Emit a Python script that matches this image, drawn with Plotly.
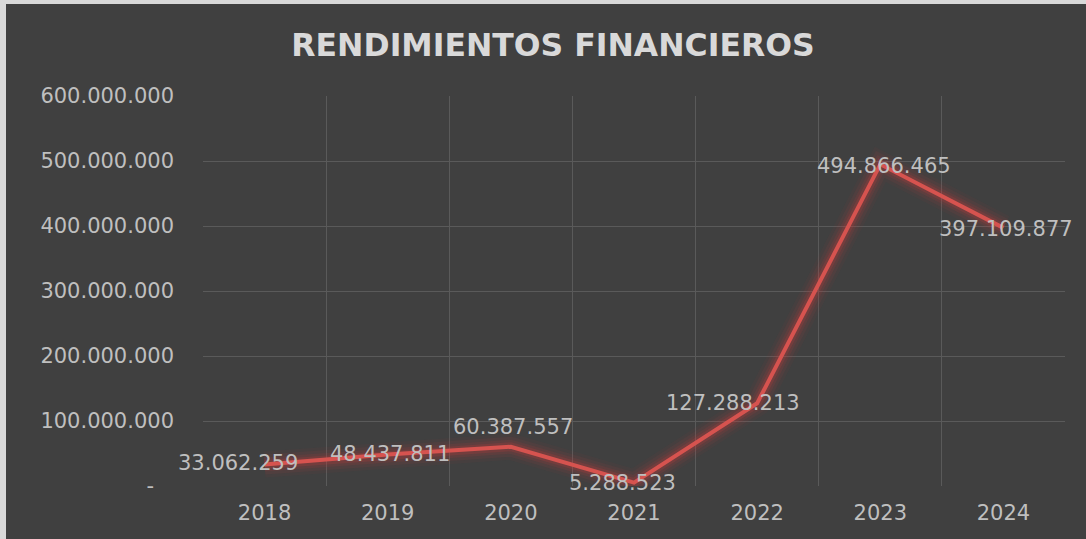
import plotly.graph_objects as go

# Annual financial returns
years = ["2018", "2019", "2020", "2021", "2022", "2023", "2024"]
rendimientos = [33062259, 48437811, 60387557, 5288523, 127288213, 494866465, 397109877]

y_ticks = [0, 100000000, 200000000, 300000000, 400000000, 500000000, 600000000]

# Per-label nudges (pixels) so values sit clear of the line
label_dx = [-27, 2, 2, -12, -24, 4, 3]
label_dy = [2, 1, 20, 0, 0, -2, -1]


def fmt_es(v):
    return f"{v:,}".replace(",", ".")


y_ticktext = ["-\u00a0\u00a0\u00a0"] + [fmt_es(v) for v in y_ticks[1:]]

W, H = 1086, 539
ML, MR, MT, MB = 203, 21, 96, 53
PW, PH = W - ML - MR, H - MT - MB

BG = "#404040"
GRID = "#5a5a5a"
TXT = "#bfbfbf"
RED = "#d6534f"
FONT = "DejaVu Sans"

x_idx = list(range(len(years)))

fig = go.Figure()

# soft glow under the line
for w, a in [(26, 0.05), (20, 0.08), (14, 0.12), (9, 0.2)]:
    fig.add_trace(go.Scatter(
        x=x_idx, y=rendimientos, mode="lines",
        line=dict(color=f"rgba(200,60,60,{a})", width=w),
        hoverinfo="skip", showlegend=False,
    ))

fig.add_trace(go.Scatter(
    x=x_idx, y=rendimientos, mode="lines",
    line=dict(color=RED, width=4),
    showlegend=False, hoverinfo="skip",
))

for i, v in enumerate(rendimientos):
    fig.add_annotation(
        x=i, y=v, text=fmt_es(v), showarrow=False,
        xshift=label_dx[i], yshift=label_dy[i],
        font=dict(family=FONT, size=21, color=TXT),
        xanchor="center", yanchor="middle",
    )

# light frame strips along the top and left edges
fig.add_shape(type="rect", xref="paper", yref="paper",
              x0=-ML / PW, x1=(6 - ML) / PW,
              y0=-MB / PH, y1=1 + MT / PH,
              fillcolor="#d9d9d9", line_width=0, layer="above")
fig.add_shape(type="rect", xref="paper", yref="paper",
              x0=-ML / PW, x1=(W - ML) / PW + 0.05,
              y0=1 + (MT - 4) / PH, y1=1 + MT / PH + 0.01,
              fillcolor="#d9d9d9", line_width=0, layer="above")

fig.update_layout(
    width=W, height=H,
    margin=dict(l=ML, r=MR, t=MT, b=MB),
    paper_bgcolor=BG, plot_bgcolor=BG,
    title=dict(
        text="<b>RENDIMIENTOS FINANCIEROS</b>",
        x=553 / W, xref="container", xanchor="center",
        y=1 - 45 / H, yref="container", yanchor="middle",
        font=dict(family=FONT, size=31.5, color="#d9d9d9"),
    ),
    xaxis=dict(
        range=[-0.5, len(years) - 0.5],
        tickvals=x_idx, ticktext=years,
        showgrid=False, zeroline=False, showline=False,
        ticks="", ticklabelstandoff=12,
        tickfont=dict(family=FONT, size=21, color=TXT),
        minor=dict(tick0=-0.5, dtick=1, showgrid=True, gridcolor=GRID, gridwidth=1.2, ticks=""),
        fixedrange=True,
    ),
    yaxis=dict(
        range=[0, 600000000],
        tickvals=y_ticks, ticktext=y_ticktext,
        showgrid=True, gridcolor=GRID, gridwidth=1,
        zeroline=False, showline=False, ticks="",
        ticklabelstandoff=28,
        tickfont=dict(family=FONT, size=21, color=TXT),
        fixedrange=True,
    ),
    showlegend=False,
)

fig.write_html("out.html")
